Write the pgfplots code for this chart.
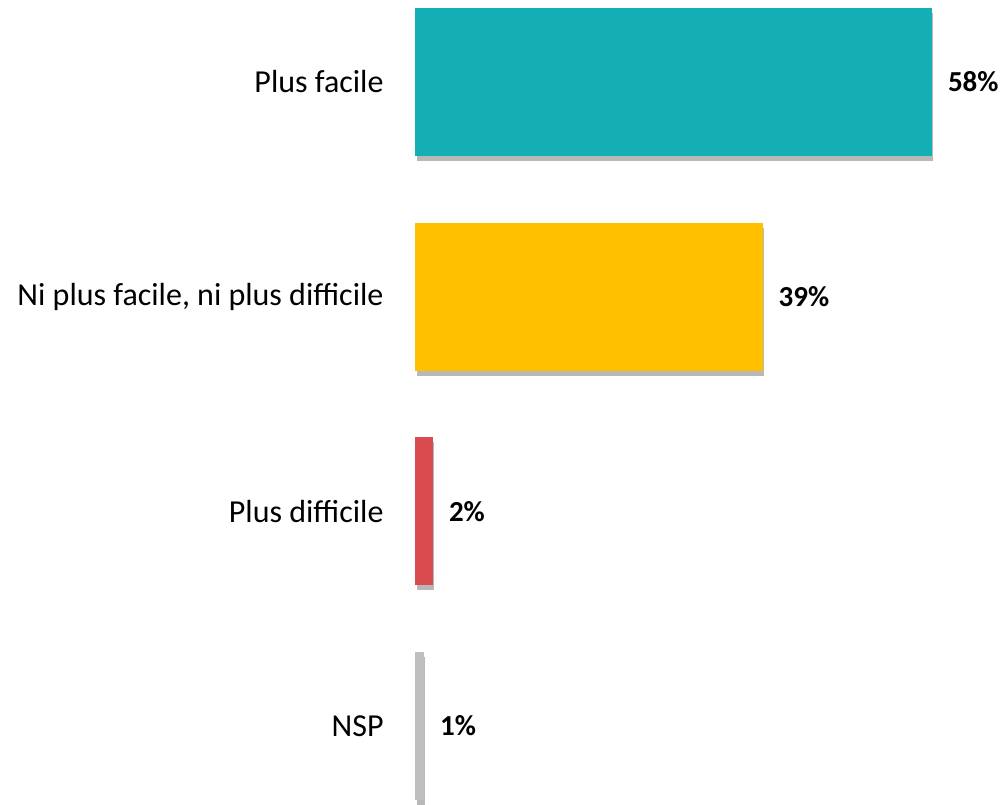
\documentclass[border=0pt]{standalone}
\usepackage{pgfplots}
\pgfplotsset{compat=1.18}
\usepackage{fontspec}
\setmainfont{Carlito}
\usetikzlibrary{shadows}
\definecolor{cteal}{RGB}{20,174,181}
\definecolor{cyellow}{RGB}{255,192,0}
\definecolor{cred}{RGB}{217,75,78}
\definecolor{cgrey}{RGB}{191,191,191}
\begin{document}
\begin{tikzpicture}
\useasboundingbox (0,0) rectangle (1004pt,805pt);
\begin{axis}[
  at={(415pt,3.9pt)}, anchor=south west,
  scale only axis,
  width=579.2pt, height=794.4pt,
  xmin=0, xmax=65,
  ymin=-0.35, ymax=3.35,
  y dir=reverse,
  xbar, bar width=148pt, bar shift=0pt,
  clip=false,
  axis line style={draw=none},
  tick style={draw=none},
  xtick=\empty,
  ytick={0,1,2,3},
  yticklabels={Plus facile, {Ni plus facile, ni plus difficile}, Plus difficile, NSP},
  yticklabel style={font=\fontsize{32}{37}\selectfont, inner sep=0pt, xshift=-27pt, anchor=east},
  nodes near coords={\pgfmathprintnumber[assume math mode=true]{\pgfplotspointmeta}\%},
  every node near coord/.append style={anchor=west, inner sep=0pt, xshift=16pt, black, font=\fontsize{29}{34}\selectfont\bfseries},
  every axis plot/.append style={draw=none, drop shadow={shadow xshift=1.5pt, shadow yshift=-5pt, opacity=0.28, fill=black}},
]
\addplot[fill=cteal] coordinates {(58,0)};
\addplot[fill=cyellow] coordinates {(39,1)};
\addplot[fill=cred] coordinates {(2,2)};
\addplot[fill=cgrey] coordinates {(1,3)};
\end{axis}
\end{tikzpicture}
\end{document}
